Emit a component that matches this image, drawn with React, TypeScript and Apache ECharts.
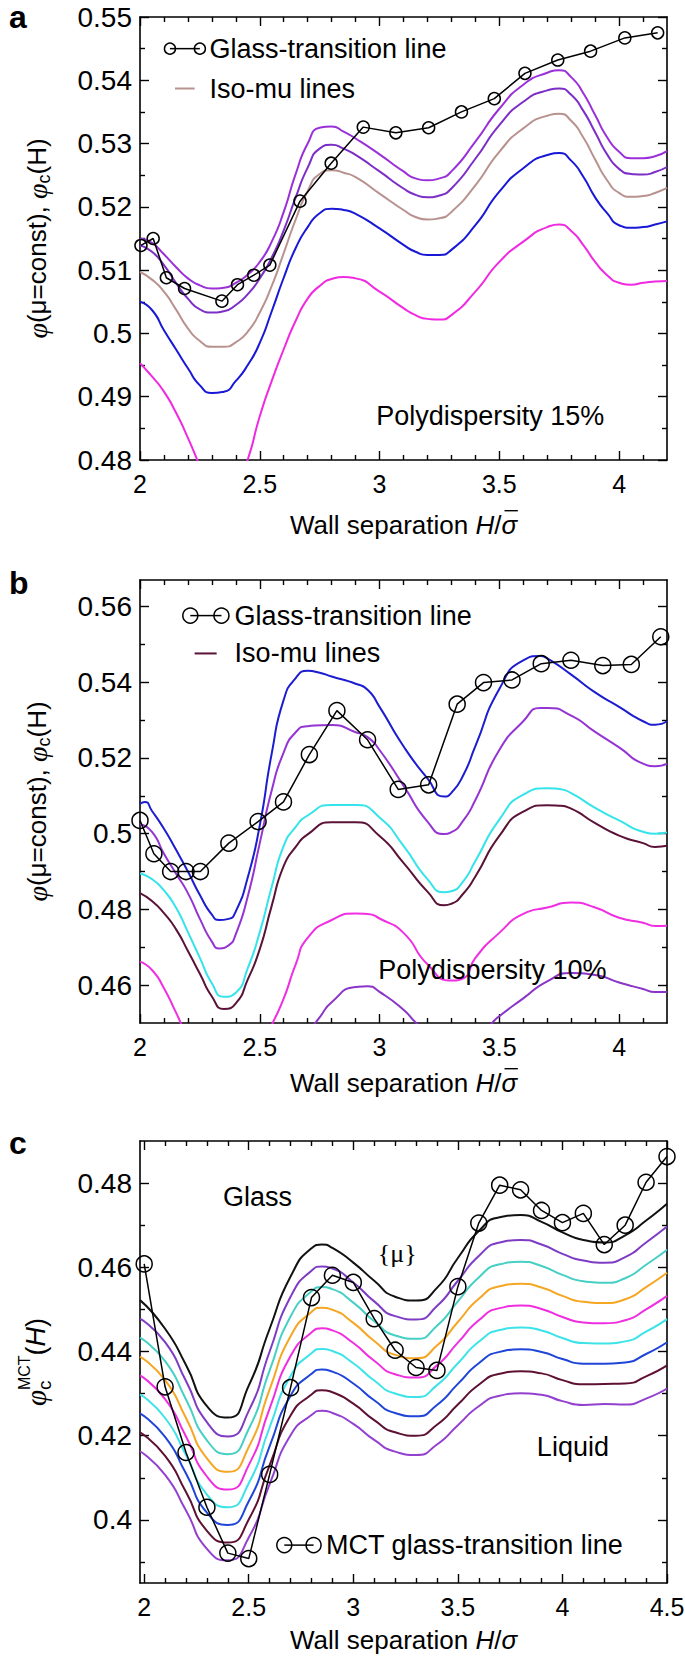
import React, { useEffect, useRef } from "react";
import * as echarts from "echarts";

const SANS = '"Liberation Sans", Arial, Helvetica, sans-serif';
const SERIF = '"Liberation Serif", "Times New Roman", serif';

// ---------- tick values ----------
const xTicksAB = [2, 2.5, 3, 3.5, 4];
const xMinorAB = [2.1, 2.2, 2.3, 2.4, 2.6, 2.7, 2.8, 2.9, 3.1, 3.2, 3.3, 3.4, 3.6, 3.7, 3.8, 3.9, 4.1];
const yTicksA = [0.48, 0.49, 0.5, 0.51, 0.52, 0.53, 0.54, 0.55];
const yMinorA = [0.485, 0.495, 0.505, 0.515, 0.525, 0.535, 0.545];
const yTicksB = [0.46, 0.48, 0.5, 0.52, 0.54, 0.56];
const yMinorB = [0.47, 0.49, 0.51, 0.53, 0.55];
const xTicksC = [2, 2.5, 3, 3.5, 4, 4.5];
const xMinorC = [2.1, 2.2, 2.3, 2.4, 2.6, 2.7, 2.8, 2.9, 3.1, 3.2, 3.3, 3.4, 3.6, 3.7, 3.8, 3.9, 4.1, 4.2, 4.3, 4.4];
const yTicksC = [0.4, 0.42, 0.44, 0.46, 0.48];
const yMinorC = [0.39, 0.41, 0.43, 0.45, 0.47];

// ---------- panel a (polydispersity 15%) ----------
const aPurple1 = [[2.0,0.5150],[2.05,0.5143],[2.1,0.5125],[2.15,0.5105],[2.2,0.5087],[2.25,0.5076],[2.3,0.5071],[2.35,0.5072],[2.4,0.5080],[2.45,0.5093],[2.5,0.5113],[2.55,0.5145],[2.6,0.5192],[2.65,0.5252],[2.7,0.5300],[2.75,0.5325],[2.8,0.5327],[2.85,0.5319],[2.9,0.5308],[3.0,0.5283],[3.1,0.5256],[3.15,0.5245],[3.2,0.5242],[3.25,0.5245],[3.3,0.5256],[3.4,0.5303],[3.5,0.5355],[3.6,0.5393],[3.7,0.5412],[3.75,0.5416],[3.8,0.5405],[3.85,0.538],[3.9,0.5345],[3.95,0.531],[4.0,0.5287],[4.05,0.5277],[4.1,0.5277],[4.15,0.528],[4.2,0.5288]];
const aPurple2 = [[2.0,0.5139],[2.05,0.5129],[2.1,0.5108],[2.15,0.508],[2.2,0.5055],[2.25,0.5038],[2.3,0.5033],[2.35,0.5035],[2.4,0.5045],[2.45,0.5062],[2.5,0.5087],[2.55,0.5120],[2.6,0.5163],[2.65,0.5215],[2.7,0.5262],[2.75,0.5292],[2.8,0.5298],[2.85,0.5292],[2.9,0.5282],[3.0,0.5256],[3.1,0.5229],[3.15,0.5219],[3.2,0.5215],[3.25,0.5218],[3.3,0.5229],[3.4,0.5276],[3.5,0.5329],[3.6,0.5366],[3.7,0.5384],[3.75,0.5387],[3.8,0.5377],[3.85,0.5352],[3.9,0.5318],[3.95,0.5283],[4.0,0.526],[4.05,0.5252],[4.1,0.5251],[4.15,0.5255],[4.2,0.5263]];
const aBrown = [[2.0,0.5097],[2.05,0.5085],[2.1,0.5066],[2.15,0.5038],[2.2,0.5008],[2.25,0.4988],[2.3,0.4979],[2.35,0.4979],[2.4,0.4986],[2.45,0.5003],[2.5,0.5033],[2.55,0.5075],[2.6,0.5127],[2.65,0.518],[2.7,0.5225],[2.75,0.5252],[2.8,0.5258],[2.85,0.5254],[2.9,0.5247],[3.0,0.5221],[3.1,0.5195],[3.15,0.5184],[3.2,0.518],[3.25,0.5182],[3.3,0.5192],[3.4,0.5234],[3.5,0.5287],[3.6,0.5324],[3.7,0.5344],[3.75,0.5347],[3.8,0.5336],[3.85,0.531],[3.9,0.5275],[3.95,0.5242],[4.0,0.5222],[4.05,0.5216],[4.1,0.5217],[4.15,0.5222],[4.2,0.523]];
const aBlue = [[2.0,0.505],[2.05,0.5037],[2.1,0.5005],[2.15,0.4975],[2.2,0.4945],[2.25,0.4918],[2.3,0.4906],[2.35,0.4908],[2.4,0.4925],[2.45,0.495],[2.5,0.4985],[2.55,0.5035],[2.6,0.5088],[2.65,0.5135],[2.7,0.5168],[2.75,0.519],[2.8,0.5197],[2.85,0.5195],[2.9,0.5189],[3.0,0.5166],[3.1,0.514],[3.15,0.5129],[3.2,0.5124],[3.25,0.5124],[3.3,0.5132],[3.4,0.5171],[3.5,0.5224],[3.6,0.5261],[3.7,0.5282],[3.75,0.5285],[3.8,0.5273],[3.85,0.5248],[3.9,0.5215],[3.95,0.519],[4.0,0.5171],[4.05,0.5167],[4.1,0.5168],[4.15,0.5172],[4.2,0.5177]];
const aMagenta = [[2.0,0.4953],[2.05,0.4932],[2.1,0.4908],[2.15,0.4875],[2.2,0.4835],[2.25,0.479],[2.3,0.4745],[2.35,0.4735],[2.4,0.4755],[2.45,0.4801],[2.5,0.4869],[2.55,0.4925],[2.6,0.4975],[2.65,0.502],[2.7,0.5055],[2.75,0.5075],[2.8,0.5086],[2.85,0.5089],[2.9,0.5087],[3.0,0.5066],[3.1,0.504],[3.15,0.5029],[3.2,0.5023],[3.25,0.5022],[3.3,0.5029],[3.4,0.5066],[3.5,0.5113],[3.6,0.5145],[3.7,0.5168],[3.75,0.5172],[3.8,0.5162],[3.85,0.514],[3.9,0.5113],[3.95,0.5092],[4.0,0.508],[4.05,0.5077],[4.1,0.508],[4.15,0.5082],[4.2,0.5083]];
const aGlass = [[2.004,0.5139],[2.055,0.515],[2.11,0.5088],[2.186,0.5071],[2.342,0.5051],[2.407,0.5077],[2.475,0.5092],[2.542,0.5108],[2.668,0.5209],[2.798,0.5269],[2.932,0.5326],[3.068,0.5317],[3.205,0.5325],[3.342,0.535],[3.479,0.5371],[3.607,0.5411],[3.744,0.5432],[3.881,0.5446],[4.024,0.5467],[4.161,0.5475]];

// ---------- panel b (polydispersity 10%) ----------
const bBlue = [[2.0,0.5079],[2.02,0.5084],[2.05,0.506],[2.1,0.5013],[2.15,0.4958],[2.2,0.49],[2.25,0.4838],[2.3,0.4786],[2.33,0.4772],[2.37,0.4775],[2.4,0.4795],[2.45,0.4885],[2.5,0.5022],[2.55,0.5212],[2.6,0.5354],[2.65,0.5411],[2.7,0.543],[2.75,0.5425],[2.8,0.5415],[2.9,0.5396],[2.95,0.538],[3.0,0.5335],[3.1,0.5231],[3.2,0.5146],[3.27,0.5098],[3.3,0.5108],[3.35,0.5155],[3.4,0.5231],[3.5,0.5382],[3.6,0.5458],[3.67,0.5469],[3.7,0.5463],[3.8,0.542],[3.9,0.5373],[4.0,0.5335],[4.1,0.5297],[4.15,0.5288],[4.2,0.5297]];
const bPurple = [[2.0,0.5025],[2.05,0.5005],[2.1,0.4947],[2.15,0.4895],[2.2,0.4843],[2.25,0.4775],[2.3,0.4715],[2.33,0.4697],[2.37,0.4705],[2.4,0.4735],[2.45,0.4835],[2.5,0.4975],[2.55,0.5115],[2.6,0.5215],[2.65,0.5268],[2.7,0.5284],[2.8,0.5287],[2.9,0.5268],[2.95,0.5255],[3.0,0.5221],[3.1,0.5127],[3.2,0.5032],[3.27,0.4999],[3.3,0.5004],[3.35,0.5035],[3.4,0.5089],[3.5,0.5221],[3.6,0.5297],[3.67,0.5332],[3.7,0.5332],[3.8,0.5312],[3.9,0.5269],[4.0,0.5228],[4.1,0.5185],[4.15,0.5178],[4.2,0.5185]];
const bCyan = [[2.0,0.4895],[2.05,0.488],[2.1,0.485],[2.15,0.4805],[2.2,0.474],[2.25,0.4672],[2.3,0.4605],[2.35,0.4569],[2.4,0.458],[2.45,0.4645],[2.5,0.474],[2.55,0.486],[2.6,0.4968],[2.65,0.5018],[2.7,0.5048],[2.8,0.5076],[2.9,0.5076],[3.0,0.5043],[3.1,0.4968],[3.2,0.488],[3.27,0.4845],[3.3,0.4848],[3.35,0.4875],[3.4,0.4928],[3.5,0.5037],[3.6,0.5103],[3.7,0.512],[3.75,0.5118],[3.8,0.5107],[3.9,0.5068],[4.0,0.5035],[4.1,0.5005],[4.15,0.5],[4.2,0.5003]];
const bMaroon = [[2.0,0.4843],[2.05,0.4822],[2.1,0.479],[2.15,0.4748],[2.2,0.469],[2.25,0.463],[2.3,0.457],[2.35,0.4537],[2.4,0.4552],[2.45,0.4615],[2.5,0.4695],[2.55,0.481],[2.6,0.4915],[2.65,0.4965],[2.7,0.4998],[2.8,0.503],[2.9,0.503],[3.0,0.4994],[3.1,0.4923],[3.2,0.4847],[3.27,0.4811],[3.3,0.4815],[3.35,0.4842],[3.4,0.4887],[3.5,0.4994],[3.6,0.5058],[3.7,0.5075],[3.75,0.5074],[3.8,0.5066],[3.9,0.5028],[4.0,0.4995],[4.1,0.4975],[4.15,0.4965],[4.2,0.4968]];
const bMagenta = [[2.0,0.4662],[2.05,0.464],[2.1,0.4592],[2.15,0.4528],[2.2,0.4465],[2.3,0.438],[2.4,0.436],[2.5,0.443],[2.55,0.4495],[2.6,0.4565],[2.65,0.4655],[2.7,0.4725],[2.8,0.4772],[2.9,0.4789],[2.95,0.4788],[3.0,0.4776],[3.1,0.4738],[3.2,0.4655],[3.3,0.4612],[3.35,0.4618],[3.4,0.4672],[3.5,0.4738],[3.6,0.4788],[3.7,0.4805],[3.8,0.4818],[3.9,0.4805],[4.0,0.4778],[4.1,0.4765],[4.15,0.4756],[4.2,0.4757]];
const bPurpleLow = [[2.0,0.447],[2.1,0.44],[2.3,0.428],[2.5,0.432],[2.6,0.44],[2.7,0.4475],[2.75,0.4515],[2.8,0.4555],[2.9,0.4595],[2.95,0.4597],[3.0,0.4582],[3.1,0.4535],[3.15,0.4502],[3.2,0.4475],[3.3,0.4432],[3.4,0.4448],[3.47,0.45],[3.5,0.4518],[3.6,0.4565],[3.7,0.461],[3.8,0.4632],[3.9,0.4627],[4.0,0.4607],[4.1,0.459],[4.15,0.4582],[4.2,0.4582]];
const bGlass = [[2.0,0.5035],[2.058,0.4947],[2.128,0.49],[2.192,0.49],[2.252,0.49],[2.371,0.4975],[2.493,0.5032],[2.599,0.5084],[2.707,0.5209],[2.822,0.5325],[2.95,0.5248],[3.078,0.5117],[3.205,0.5129],[3.324,0.5342],[3.434,0.5399],[3.553,0.5406],[3.675,0.5449],[3.799,0.5458],[3.932,0.5444],[4.051,0.5447],[4.174,0.552]];

// ---------- panel c (MCT) ----------
const cX = [1.98, 2.1, 2.2, 2.3, 2.4, 2.5, 2.6, 2.7, 2.8, 2.85, 2.9, 3.0, 3.1, 3.2, 3.3, 3.4, 3.5, 3.6, 3.7, 3.8, 3.9, 4.0, 4.1, 4.2, 4.3, 4.4, 4.5];
const cBlack = [0.4522,0.4454,0.4368,0.4270,0.4243,0.4319,0.4454,0.4578,0.4645,0.4654,0.4646,0.4611,0.4568,0.4530,0.4521,0.4551,0.4622,0.4686,0.4719,0.4724,0.4708,0.4683,0.4665,0.4659,0.4676,0.4711,0.4751];
const cPurple1 = [0.4478,0.4422,0.4330,0.4232,0.4198,0.4259,0.4400,0.4530,0.4592,0.4602,0.4597,0.4564,0.4519,0.4484,0.4476,0.4508,0.4568,0.4627,0.4659,0.4665,0.4654,0.4632,0.4616,0.4611,0.4624,0.4659,0.4697];
const cTeal = [0.4433,0.4377,0.4286,0.4189,0.4156,0.4216,0.4355,0.4483,0.4543,0.4553,0.4548,0.4516,0.4472,0.4438,0.4430,0.4461,0.4519,0.4576,0.4607,0.4613,0.4603,0.4582,0.4567,0.4563,0.4574,0.4606,0.4642];
const cOrange = [0.4388,0.4332,0.4242,0.4146,0.4114,0.4173,0.4310,0.4436,0.4494,0.4504,0.4499,0.4468,0.4425,0.4392,0.4384,0.4414,0.4470,0.4525,0.4555,0.4561,0.4552,0.4532,0.4518,0.4515,0.4524,0.4553,0.4587];
const cMagenta = [0.4343,0.4287,0.4198,0.4103,0.4072,0.4130,0.4265,0.4389,0.4445,0.4455,0.4450,0.4420,0.4378,0.4346,0.4338,0.4367,0.4421,0.4474,0.4503,0.4509,0.4501,0.4482,0.4469,0.4467,0.4474,0.4500,0.4532];
const cCyan = [0.4298,0.4242,0.4154,0.4060,0.4030,0.4087,0.4220,0.4342,0.4396,0.4406,0.4401,0.4372,0.4331,0.4300,0.4292,0.4320,0.4372,0.4423,0.4451,0.4457,0.4450,0.4432,0.4420,0.4419,0.4424,0.4447,0.4477];
const cBlue = [0.4253,0.4197,0.4110,0.4017,0.3988,0.4044,0.4175,0.4295,0.4347,0.4357,0.4352,0.4324,0.4284,0.4254,0.4246,0.4273,0.4323,0.4372,0.4399,0.4405,0.4399,0.4382,0.4371,0.4371,0.4374,0.4394,0.4422];
const cMaroon = [0.4208,0.4152,0.4066,0.3974,0.3946,0.4001,0.4130,0.4248,0.4298,0.4308,0.4303,0.4276,0.4237,0.4208,0.4200,0.4226,0.4274,0.4321,0.4347,0.4353,0.4348,0.4332,0.4322,0.4323,0.4324,0.4341,0.4367];
const cPurple2 = [0.4163,0.4107,0.4022,0.3931,0.3904,0.3958,0.4085,0.4201,0.4249,0.4259,0.4254,0.4228,0.4190,0.4162,0.4154,0.4179,0.4225,0.4270,0.4295,0.4301,0.4297,0.4282,0.4273,0.4275,0.4274,0.4288,0.4312];
const cGlassX = [2.0,2.1,2.2,2.3,2.4,2.5,2.6,2.7,2.8,2.9,3.0,3.1,3.2,3.3,3.4,3.5,3.6,3.7,3.8,3.9,4.0,4.1,4.2,4.3,4.4,4.5];
const cGlassY = [0.4608,0.4316,0.416,0.403,0.3921,0.3908,0.4108,0.4314,0.4528,0.4581,0.4564,0.4478,0.4403,0.4362,0.4355,0.4554,0.4705,0.4795,0.4784,0.4735,0.4706,0.4728,0.4654,0.47,0.4802,0.4863];

// ---------- layout ----------
const GRIDS = [
  { left: 140, top: 17, width: 527, height: 443 },
  { left: 140, top: 580, width: 527, height: 443 },
  { left: 140, top: 1141, width: 527, height: 442 },
];
const RANGES = [
  { x: [2, 4.2], y: [0.48, 0.55] },
  { x: [2, 4.2], y: [0.45, 0.567] },
  { x: [1.98, 4.5], y: [0.385, 0.49] },
];

const fmt = (v: number) => String(+(+v).toFixed(3));

function axesFor(dim: "x" | "y", gi: number, range: number[], majors: number[], minors: number[], labelSize: number) {
  const pos = dim === "x" ? ["bottom", "top"] : ["left", "right"];
  const base = { type: "value", gridIndex: gi, min: range[0], max: range[1], splitLine: { show: false } };
  const line = { show: true, onZero: false, lineStyle: { color: "#000", width: 1.6 } };
  const tickStyle = { color: "#000", width: 1.4 };
  const major = { show: true, inside: true, length: 9, customValues: majors, lineStyle: tickStyle };
  const minor = { show: true, inside: true, length: 5, customValues: minors, lineStyle: tickStyle };
  return [
    {
      ...base, position: pos[0], axisLine: line, axisTick: major,
      axisLabel: { show: true, customValues: majors, formatter: fmt, fontSize: labelSize, fontFamily: SANS, color: "#000", margin: dim === "x" ? 11 : 8 },
    },
    { ...base, position: pos[0], axisLine: { show: false, onZero: false }, axisTick: minor, axisLabel: { show: false } },
    { ...base, position: pos[1], axisLine: line, axisTick: major, axisLabel: { show: false } },
    { ...base, position: pos[1], axisLine: { show: false, onZero: false }, axisTick: minor, axisLabel: { show: false } },
  ];
}

function curve(gi: number, data: number[][], color: string) {
  return {
    type: "line", xAxisIndex: gi * 4, yAxisIndex: gi * 4, data, symbol: "none", showSymbol: false,
    smooth: 0.6, lineStyle: { color, width: 2 }, clip: true, silent: true, z: 2,
  };
}
function glass(gi: number, data: number[][], size: number) {
  return {
    type: "line", xAxisIndex: gi * 4, yAxisIndex: gi * 4, data, symbol: "circle", symbolSize: size, showSymbol: true,
    itemStyle: { color: "rgba(255,255,255,0)", borderColor: "#000", borderWidth: 1.5 },
    lineStyle: { color: "#000", width: 1.5 }, clip: false, silent: true, z: 5,
  };
}
const zip = (xs: number[], ys: number[]) => xs.map((x, i) => [x, ys[i]]);

function buildOption() {
  const xAxis: any[] = [
    ...axesFor("x", 0, RANGES[0].x, xTicksAB, xMinorAB, 25),
    ...axesFor("x", 1, RANGES[1].x, xTicksAB, xMinorAB, 25),
    ...axesFor("x", 2, RANGES[2].x, xTicksC, xMinorC, 25),
  ];
  const yAxis: any[] = [
    ...axesFor("y", 0, RANGES[0].y, yTicksA, yMinorA, 28),
    ...axesFor("y", 1, RANGES[1].y, yTicksB, yMinorB, 28),
    ...axesFor("y", 2, RANGES[2].y, yTicksC, yMinorC, 28),
  ];
  const series: any[] = [
    curve(0, aMagenta, "#f02ae0"),
    curve(0, aBlue, "#1818d6"),
    curve(0, aBrown, "#b8928e"),
    curve(0, aPurple2, "#7c2ec6"),
    curve(0, aPurple1, "#9a30d8"),
    glass(0, aGlass, 12),

    curve(1, bPurpleLow, "#8a34c8"),
    curve(1, bMagenta, "#f02ee2"),
    curve(1, bMaroon, "#5a1236"),
    curve(1, bCyan, "#34e4ea"),
    curve(1, bPurple, "#9435d3"),
    curve(1, bBlue, "#1c1cd0"),
    glass(1, bGlass, 16),

    curve(2, zip(cX, cPurple2), "#9440cf"),
    curve(2, zip(cX, cMaroon), "#5e1133"),
    curve(2, zip(cX, cBlue), "#1f45d8"),
    curve(2, zip(cX, cCyan), "#3de3e8"),
    curve(2, zip(cX, cMagenta), "#ee2ee0"),
    curve(2, zip(cX, cOrange), "#f5a623"),
    curve(2, zip(cX, cTeal), "#45cfc5"),
    curve(2, zip(cX, cPurple1), "#7e3bc4"),
    curve(2, zip(cX, cBlack), "#111111"),
    glass(2, zip(cGlassX, cGlassY), 16),
  ];
  return {
    animation: false,
    backgroundColor: "#ffffff",
    grid: GRIDS.map((g) => ({ ...g, containLabel: false, outerBoundsMode: "none" })),
    xAxis, yAxis, series,
  };
}

// ---------- text helpers ----------
let ctx: CanvasRenderingContext2D | null = null;
function measure(t: string, size: number, italic: boolean, family: string) {
  if (!ctx) ctx = document.createElement("canvas").getContext("2d");
  ctx!.font = `${italic ? "italic " : ""}${size}px ${family}`;
  return ctx!.measureText(t).width;
}
type Piece = { t: string; size: number; italic?: boolean; serif?: boolean; dy?: number; stack?: boolean; bar?: boolean };
function composite(pieces: Piece[], cx: number, cy: number, rotation: number) {
  const items: any[] = [];
  let x = 0, prevStart = 0;
  const placed: { p: Piece; px: number; w: number }[] = [];
  for (const p of pieces) {
    const fam = p.serif ? SERIF : SANS;
    const w = measure(p.t, p.size, !!p.italic, fam);
    const px = p.stack ? prevStart : x;
    placed.push({ p, px, w });
    if (!p.stack) prevStart = px;
    x = Math.max(x, px + w);
  }
  const W = x;
  for (const { p, px, w } of placed) {
    const fam = p.serif ? SERIF : SANS;
    items.push({
      type: "text", x: px - W / 2, y: p.dy || 0,
      style: { text: p.t, fontSize: p.size, fontFamily: fam, fontStyle: p.italic ? "italic" : "normal", fill: "#000", align: "left", verticalAlign: "middle" },
    });
    if (p.bar) {
      const y = (p.dy || 0) - p.size * 0.55;
      items.push({ type: "line", shape: { x1: px - W / 2 + w * 0.2, y1: y, x2: px - W / 2 + w * 1.05, y2: y }, style: { stroke: "#000", lineWidth: 1.4 } });
    }
  }
  return { type: "group", x: cx, y: cy, rotation, children: items, z: 20 };
}

function buildGraphics(chart: any) {
  const P = (gi: number, x: number, y: number) => chart.convertToPixel({ xAxisIndex: gi * 4, yAxisIndex: gi * 4 }, [x, y]) as number[];
  const els: any[] = [];
  const txt = (p: number[], text: string, size: number, align = "left", family = SANS) => ({
    type: "text", x: p[0], y: p[1], z: 20,
    style: { text, fontSize: size, fontFamily: family, fill: "#000", align, verticalAlign: "middle" },
  });
  const sym = (p1: number[], p2: number[], r: number) => [
    { type: "line", z: 20, shape: { x1: p1[0], y1: p1[1], x2: p2[0], y2: p2[1] }, style: { stroke: "#000", lineWidth: 1.5 } },
    { type: "circle", z: 20, shape: { cx: p1[0], cy: p1[1], r }, style: { fill: "none", stroke: "#000", lineWidth: 1.5 } },
    { type: "circle", z: 20, shape: { cx: p2[0], cy: p2[1], r }, style: { fill: "none", stroke: "#000", lineWidth: 1.5 } },
  ];
  const seg = (p1: number[], p2: number[], color: string) => ({
    type: "line", z: 20, shape: { x1: p1[0], y1: p1[1], x2: p2[0], y2: p2[1] }, style: { stroke: color, lineWidth: 2 },
  });

  // panel letters
  const labels = ["a", "b", "c"];
  const labelY = [17, 583, 1143];
  labels.forEach((l, i) => {
    els.push({ type: "text", x: 9, y: labelY[i], z: 20, style: { text: l, fontSize: 32, fontWeight: "bold", fontFamily: SANS, fill: "#000", align: "left", verticalAlign: "middle" } });
  });

  // panel a annotations
  els.push(...sym(P(0, 2.125, 0.545), P(0, 2.25, 0.545), 5.5));
  els.push(txt(P(0, 2.29, 0.545), "Glass-transition line", 27));
  els.push(seg(P(0, 2.146, 0.5387), P(0, 2.228, 0.5387), "#b8928e"));
  els.push(txt(P(0, 2.29, 0.5387), "Iso-mu lines", 27));
  els.push(txt(P(0, 2.986, 0.4869), "Polydispersity 15%", 27));

  // panel b annotations
  els.push(...sym(P(1, 2.21, 0.5576), P(1, 2.34, 0.5576), 7.5));
  els.push(txt(P(1, 2.395, 0.5576), "Glass-transition line", 27));
  els.push(seg(P(1, 2.228, 0.5476), P(1, 2.32, 0.5476), "#5a1236"));
  els.push(txt(P(1, 2.395, 0.5476), "Iso-mu lines", 27));
  els.push(txt(P(1, 2.995, 0.464), "Polydispersity 10%", 27));

  // panel c annotations
  els.push(txt(P(2, 2.377, 0.4768), "Glass", 27));
  els.push(txt(P(2, 3.21, 0.4632), "{μ}", 26, "center", SERIF));
  els.push(txt(P(2, 4.05, 0.4173), "Liquid", 27, "center"));
  els.push(...sym(P(2, 2.67, 0.394), P(2, 2.81, 0.394), 7.5));
  els.push(txt(P(2, 2.87, 0.394), "MCT glass-transition line", 27));

  // axis titles
  const cxPlot = GRIDS[0].left + GRIDS[0].width / 2;
  const xt = (bar: boolean): Piece[] => [
    { t: "Wall separation ", size: 26 },
    { t: "H", size: 26, italic: true },
    { t: "/", size: 26 },
    { t: "σ", size: 26, italic: true, bar },
  ];
  els.push(composite(xt(true), cxPlot, 525, 0));
  els.push(composite(xt(true), cxPlot, 1083, 0));
  els.push(composite(xt(false), cxPlot, 1640, 0));

  const yt: Piece[] = [
    { t: "φ", size: 28, italic: true, serif: true },
    { t: "(μ=const), ", size: 26 },
    { t: "φ", size: 28, italic: true, serif: true },
    { t: "c", size: 18, dy: 7 },
    { t: "(H)", size: 26 },
  ];
  els.push(composite(yt, 37, GRIDS[0].top + GRIDS[0].height / 2, Math.PI / 2));
  els.push(composite(yt, 37, GRIDS[1].top + GRIDS[1].height / 2, Math.PI / 2));
  const ytc: Piece[] = [
    { t: "φ", size: 29, italic: true, serif: true },
    { t: "c", size: 19, dy: 8 },
    { t: "MCT", size: 16, dy: -12, stack: true },
    { t: "(", size: 27 },
    { t: "H", size: 27, italic: true },
    { t: ")", size: 27 },
  ];
  els.push(composite(ytc, 36, GRIDS[2].top + GRIDS[2].height / 2, Math.PI / 2));
  return els;
}

export default function App() {
  const ref = useRef<HTMLDivElement>(null);
  useEffect(() => {
    const el = ref.current;
    if (!el) return;
    const chart = echarts.init(el, null, { renderer: "svg" });
    chart.setOption(buildOption() as any);
    chart.setOption({ graphic: buildGraphics(chart) } as any);
    return () => chart.dispose();
  }, []);
  return (
    <div
      ref={ref}
      style={{ position: "absolute", left: 0, top: 0, width: 685, height: 1656, background: "#fff" }}
    />
  );
}
